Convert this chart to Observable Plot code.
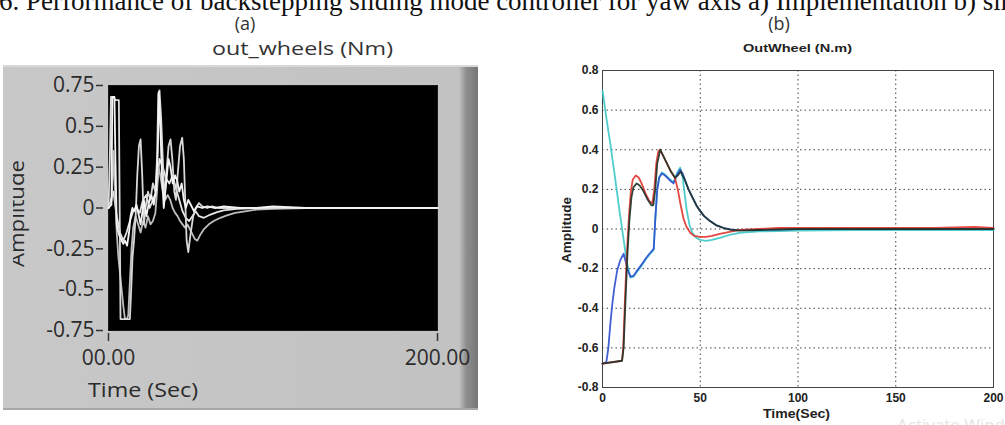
<!DOCTYPE html>
<html><head><meta charset="utf-8">
<script src="https://cdn.jsdelivr.net/npm/d3@7"></script>
<script src="https://cdn.jsdelivr.net/npm/@observablehq/plot@0.6"></script>
<style>
html,body{margin:0;padding:0;background:#fff;}
#page{position:relative;width:1005px;height:425px;overflow:hidden;background:#fff;}
#frameA{position:absolute;left:3px;top:65px;width:475px;height:345px;
  background:linear-gradient(to right,#c8c8c8 0%,#c2c2c2 96%,#8e8e8e 97.5%,#767676 100%);
  box-shadow:inset 0 2px 0 #d8d8d8, inset 0 -2px 0 #a8a8a8;}
#plotA{position:absolute;left:3px;top:65px;}
#plotB{position:absolute;left:540px;top:35px;}
#overlay{position:absolute;left:0;top:0;pointer-events:none;}
</style></head>
<body><div id="page">
<div id="frameA"></div>
<div id="plotA"></div>
<div id="plotB"></div>
<svg id="overlay" width="1005" height="425" xmlns="http://www.w3.org/2000/svg">
  <defs><clipPath id="clipAmp"><rect x="13" y="100" width="40" height="220"/></clipPath></defs>
  <text x="-1" y="10" font-family="Liberation Serif" font-size="27" fill="#111">6. Performance of backstepping sliding mode controller for yaw axis a) Implementation b) simulation</text>
  <text x="245" y="30" text-anchor="middle" font-family="Open Sans" font-size="18" fill="#333">(a)</text>
  <text x="779" y="30" text-anchor="middle" font-family="Open Sans" font-size="18" fill="#333">(b)</text>
  <text x="212" y="55" font-family="Open Sans" font-size="19" fill="#333" textLength="181" lengthAdjust="spacingAndGlyphs">out_wheels (Nm)</text>
  <text x="88" y="397" font-family="Open Sans" font-size="20" fill="#2b2b2b" textLength="110" lengthAdjust="spacingAndGlyphs">Time (Sec)</text>
  <g clip-path="url(#clipAmp)"><text transform="translate(24,267) rotate(-90)" font-family="Open Sans" font-size="20" fill="#2b2b2b" textLength="107" lengthAdjust="spacingAndGlyphs">Amplitude</text></g>
  <text x="743" y="52" font-family="Liberation Sans" font-weight="bold" font-size="11" fill="#222" textLength="109" lengthAdjust="spacingAndGlyphs">OutWheel (N.m)</text>
  <text x="763" y="418" font-family="Liberation Sans" font-weight="bold" font-size="12" fill="#222" textLength="67" lengthAdjust="spacingAndGlyphs">Time(Sec)</text>
  <text transform="translate(571,263) rotate(-90)" font-family="Liberation Sans" font-weight="bold" font-size="12" fill="#222" textLength="66" lengthAdjust="spacingAndGlyphs">Amplitude</text>
  <text x="897" y="431" font-family="Open Sans" font-size="17" fill="#e4e4e4">Activate Windows</text>
</svg>
</div>
<script>
// ---------- Panel (a): LabVIEW graph ----------
const aXTicks = [0, 200];
const aXLabels = ["00.00", "200.00"];
const aYTicks = [0.75, 0.5, 0.25, 0, -0.25, -0.5, -0.75];
const aYLabels = ["0.75", "0.5", "0.25", "0", "-0.25", "-0.5", "-0.75"];

const aT1 = [0,1.8,2.3,3.6,4.2,5,6,7,8,9,10,11.3,12.5,13.4,14.5,15.5,17,18.5,19.5,20.5,21.5,23,24.5,26,27.5,29,30,30.6,31.5,32.5,33.6,35,36.5,37.7,39,40.5,41.7,43,44.5,45.8,47,48.5,50,52,54,57,60,65,70,80,90,100,120,150,180,200];
const aV1 = [0.0,0.02,0.68,0.68,0.3,-0.1,-0.15,-0.18,-0.2,-0.22,-0.2,-0.23,-0.15,-0.05,0.0,-0.02,0.02,-0.05,-0.1,-0.03,0.05,-0.05,0.03,0.08,0.02,0.12,0.35,0.71,0.5,0.2,0.0,0.15,0.3,0.25,0.15,0.2,0.17,0.1,0.15,0.05,0.0,0.05,0.02,-0.02,0.01,0.0,0.01,0.0,0.01,0.0,0.0,0.01,0.0,0.0,0.0,0.0];
const aT2 = [0,0.8,1.5,3.3,4,6.3,7.3,13,13.8,14.6,15.5,16.5,17.5,18.5,19.5,20.5,21.5,22.5,24,25.5,27,28.5,29.5,30.3,31,32,33,34,35.5,36.5,37.7,38.8,40,41,42,43.5,44.8,45.8,46.8,47.5,48.5,50,51.5,53,55,57,60,63,67,72,80,90,100,200];
const aV2 = [0.0,0.3,0.68,0.68,0.66,0.66,-0.68,-0.68,-0.5,-0.3,-0.2,-0.05,0.2,0.38,0.42,0.2,-0.1,0.0,0.1,0.05,0.15,0.1,0.3,0.7,0.72,0.55,0.3,0.05,0.25,0.38,0.42,0.3,0.1,0.05,0.2,0.38,0.43,0.3,0.0,-0.2,-0.27,-0.15,-0.05,0.0,0.03,0.01,0.0,0.01,0.0,0.0,0.0,0.0,0.0,0.0];
const aT3 = [0,2,3,4,5,6,7.5,9,10,11,12,13,14,15,16.5,18,19.5,21,22.5,24,25.5,27,28.5,29.5,30.5,31.5,33,34.5,36,37.5,39,40.5,42,43.5,45,46.5,48,49.5,51,52.5,54,56,58,61,64,68,72,77,83,90,100,120,200];
const aV3 = [0.0,0.05,0.35,0.1,-0.15,-0.3,-0.45,-0.6,-0.68,-0.68,-0.66,-0.45,-0.25,-0.12,-0.05,-0.1,-0.15,-0.08,-0.12,-0.05,-0.1,-0.08,-0.03,0.1,0.25,0.2,0.1,0.05,0.08,0.05,0.0,-0.03,-0.05,-0.08,-0.1,-0.12,-0.1,-0.13,-0.16,-0.19,-0.2,-0.16,-0.13,-0.1,-0.08,-0.06,-0.045,-0.03,-0.02,-0.01,-0.005,0.0,0.0];
const aT4 = [0,3,5,7,9,11,13,15,17,19,21,23,25,27,29,31,33,35,37,39,41,43,45,47,49,51,53,55,58,62,66,70,78,90,100,200];
const aV4 = [0.0,0.1,-0.05,-0.15,-0.2,-0.15,-0.08,-0.02,0.0,-0.03,0.05,0.08,0.0,0.05,0.1,0.3,0.25,0.18,0.15,0.2,0.12,0.05,-0.02,-0.06,-0.08,-0.05,-0.02,-0.05,-0.06,-0.04,-0.025,-0.015,-0.005,0.0,0.0,0.0];

// ---------- Panel (b): MATLAB plot ----------
const bXTicks = [0, 50, 100, 150, 200];
const bYTicks = [0.8, 0.6, 0.4, 0.2, 0, -0.2, -0.4, -0.6, -0.8];
const bYLabels = ["0.8", "0.6", "0.4", "0.2", "0", "-0.2", "-0.4", "-0.6", "-0.8"];

const bTRed = [0,10,10.6,11.5,12.5,13.5,14.5,15.5,17,18.5,20,22,24,25.5,26.5,27.5,28.5,29.5,31,33,35,37,38.5,40,41.5,43,45,47,50,53,56,60,65,70,80,90,100,120,150,170,190,200];
const bVRed = [-0.68,-0.665,-0.6,-0.35,-0.12,0.06,0.19,0.25,0.27,0.26,0.23,0.18,0.14,0.13,0.2,0.33,0.39,0.40,0.37,0.33,0.29,0.26,0.2,0.12,0.05,0.01,-0.02,-0.035,-0.04,-0.04,-0.035,-0.025,-0.015,-0.005,0,0.005,0.005,0.005,0.005,0.005,0.01,0.005];
const bTBlack = [0,10,10.8,11.8,12.8,13.8,14.8,15.8,17.5,19,21,23,25,26,27,28,29.5,31,33,35,37,38.5,40,42,44,46,48,50,52,55,58,62,66,70,80,100,130,160,200];
const bVBlack = [-0.68,-0.665,-0.6,-0.35,-0.12,0.05,0.16,0.21,0.23,0.22,0.19,0.15,0.12,0.12,0.2,0.33,0.40,0.37,0.33,0.29,0.26,0.27,0.29,0.25,0.2,0.16,0.12,0.09,0.065,0.04,0.02,0.005,-0.005,-0.008,-0.005,0,0,0,0];
const bTBlue = [0,2,3,4,5,6,7.5,9,10.8,12,13,14.3,16,17.7,20,22,24,26.2,27,28,29,30.4,32,34,36.3,38,39.7,41,42.5,44,46,48,50,52,55,58,62,66,70,80,100,150,200];
const bVBlue = [-0.68,-0.67,-0.6,-0.48,-0.38,-0.3,-0.21,-0.16,-0.125,-0.17,-0.21,-0.24,-0.235,-0.21,-0.18,-0.15,-0.125,-0.1,0.05,0.2,0.26,0.28,0.27,0.25,0.23,0.27,0.30,0.28,0.24,0.2,0.16,0.12,0.09,0.065,0.04,0.02,0.005,-0.003,-0.006,-0.005,0,0,0];
const bTCyan = [0,2,4,6,7.5,9,10.9,12.5,14.3,16,17.7,20,22,24,26.2,27,28,29,30.4,32,34,36.3,38,39.7,41,42,43,44.5,46,48,50,53,56,60,65,70,80,90,100,130,160,200];
const bVCyan = [0.7,0.56,0.43,0.29,0.18,0.07,-0.06,-0.17,-0.245,-0.24,-0.215,-0.185,-0.155,-0.13,-0.105,0.05,0.2,0.26,0.285,0.275,0.255,0.235,0.28,0.31,0.26,0.18,0.1,0.02,-0.02,-0.045,-0.055,-0.06,-0.055,-0.045,-0.03,-0.02,-0.012,-0.01,-0.008,-0.006,-0.005,-0.005];

const rows = (t, v, s) => t.map((x, i) => ({t: x, v: v[i], s}));

const dataA = [
  ...rows(aT4, aV4, "a4"),
  ...rows(aT3, aV3, "a3"),
  ...rows(aT2, aV2, "a2"),
  ...rows(aT1, aV1, "a1")
];
const colorA = {a1: "#f4f4f4", a2: "#d9d9d9", a3: "#bdbdbd", a4: "#e6e6e6"};

const plotA = Plot.plot({
  width: 475, height: 345,
  marginLeft: 105, marginRight: 41, marginTop: 20, marginBottom: 80,
  style: {background: "transparent", fontFamily: "Open Sans", fontSize: "21px", color: "#2b2b2b", overflow: "visible"},
  x: {domain: [0, 200]},
  y: {domain: [-0.75, 0.75]},
  marks: [
    Plot.frame({fill: "black", stroke: "#1a1a1a"}),
    Plot.axisY({ticks: aYTicks, tickFormat: d => aYLabels[aYTicks.indexOf(d)], tickSize: 7, tickPadding: 2, dx: -5, label: null, stroke: "#333", strokeWidth: 1.5}),
    Plot.axisX({ticks: aXTicks, tickFormat: d => aXLabels[aXTicks.indexOf(d)], tickSize: 8, tickPadding: 9, dy: 3, label: null, stroke: "#333", strokeWidth: 1.5}),
    Plot.line(dataA, {x: "t", y: "v", z: "s", stroke: d => colorA[d.s], strokeWidth: 1.8, curve: "linear"})
  ]
});
document.getElementById("plotA").appendChild(plotA);

const dataB = [
  ...rows(bTCyan, bVCyan, "cyan"),
  ...rows(bTBlue, bVBlue, "blue"),
  ...rows(bTRed, bVRed, "red"),
  ...rows(bTBlack, bVBlack, "black")
];
const colorB = {red: "#e0352e", black: "#1e3328", blue: "#2f4fd0", cyan: "#3cc8c8"};

const plotB = Plot.plot({
  width: 465, height: 390,
  marginLeft: 62, marginRight: 12, marginTop: 35, marginBottom: 38,
  style: {background: "transparent", fontFamily: "Liberation Sans", fontSize: "12px", fontWeight: "bold", color: "#222", overflow: "visible"},
  x: {domain: [0, 200]},
  y: {domain: [-0.8, 0.8]},
  marks: [
    Plot.gridX({ticks: [50, 100, 150], stroke: "#222", strokeOpacity: 0.85, strokeDasharray: "1.5,3"}),
    Plot.gridY({ticks: [0.6, 0.4, 0.2, 0, -0.2, -0.4, -0.6], stroke: "#222", strokeOpacity: 0.85, strokeDasharray: "1.5,3"}),
    Plot.frame({stroke: "#444"}),
    Plot.axisY({ticks: bYTicks, tickFormat: d => bYLabels[bYTicks.indexOf(d)], tickSize: 0, tickPadding: 4, label: null}),
    Plot.axisX({ticks: bXTicks, tickSize: 0, tickPadding: 6, label: null}),
    Plot.line(dataB, {x: "t", y: "v", z: "s", stroke: d => colorB[d.s], strokeWidth: 1.8, strokeOpacity: 0.9})
  ]
});
document.getElementById("plotB").appendChild(plotB);
</script>
</body></html>
